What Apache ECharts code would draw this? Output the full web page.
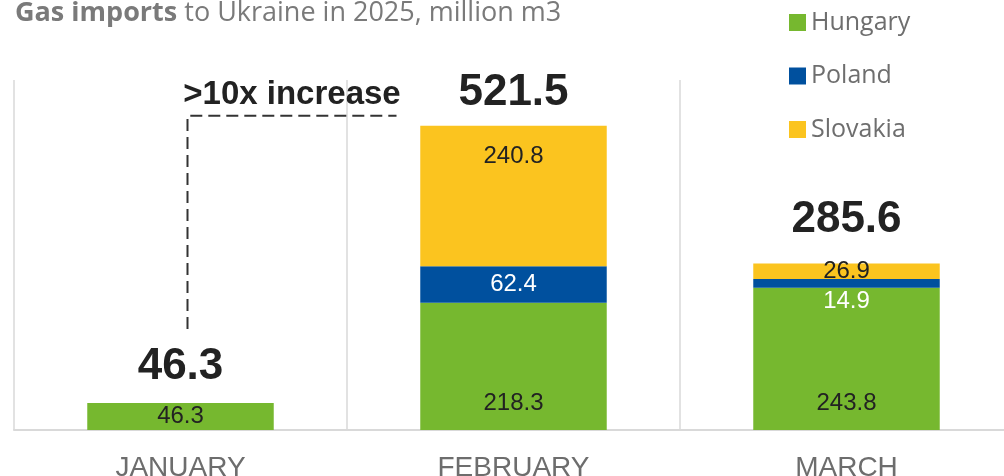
<!DOCTYPE html>
<html>
<head>
<meta charset="utf-8">
<script src="https://cdn.jsdelivr.net/npm/echarts@6/dist/echarts.min.js"></script>
<style>
  html, body { margin: 0; padding: 0; background: #fff; }
  #chart { width: 1004px; height: 476px; }
</style>
</head>
<body>
<div id="chart"></div>
<script>
// Monthly gas imports to Ukraine, million m3
const months = ['JANUARY', 'FEBRUARY', 'MARCH'];
const hungary = [46.3, 218.3, 243.8];
const poland = [0, 62.4, 14.9];
const slovakia = [0, 240.8, 26.9];
const countryNames = ['Hungary', 'Poland', 'Slovakia'];

const totals = months.map((_, i) => +(hungary[i] + poland[i] + slovakia[i]).toFixed(1));

const COLORS = { Hungary: '#76B82F', Poland: '#00509E', Slovakia: '#FBC41F' };
const NUM_FONT = 'Liberation Sans, Arial, sans-serif';
const TEXT_FONT = 'Open Sans, Liberation Sans, sans-serif';

const chart = echarts.init(document.getElementById('chart'), null, { renderer: 'canvas' });

// distance of the bold total above each column
const totalLift = [14, 10, 21];

function segLabel(color) {
  return { show: true, color: color, fontSize: 24, fontFamily: NUM_FONT, formatter: p => p.value ? p.value.toFixed(1) : '' };
}

const option = {
  animation: false,
  title: {
    text: '{b|Gas imports} to Ukraine in 2025, million m3',
    left: 10,
    top: -5,
    textStyle: {
      fontFamily: TEXT_FONT, fontSize: 27, color: '#7a7a7a', fontWeight: 'normal',
      rich: { b: { fontFamily: TEXT_FONT, fontSize: 27, color: '#7a7a7a', fontWeight: 'bold' } }
    }
  },
  legend: {
    data: countryNames,
    orient: 'vertical',
    left: 784,
    top: 5,
    itemWidth: 17,
    itemHeight: 17,
    itemGap: 28.5,
    icon: 'rect',
    textStyle: { fontFamily: TEXT_FONT, fontSize: 25, lineHeight: 25, color: '#6e6e6e' }
  },
  grid: { left: 14, width: 999, top: 80, bottom: 46, containLabel: false, outerBoundsMode: 'none' },
  xAxis: {
    type: 'category',
    data: months,
    axisLine: { show: true, lineStyle: { color: '#d9d9d9', width: 2 } },
    axisTick: { show: false },
    splitLine: { show: true, lineStyle: { color: '#d9d9d9', width: 1.5 } },
    axisLabel: { margin: 24, fontFamily: NUM_FONT, fontSize: 28, color: '#6d6d6d', lineHeight: 28 }
  },
  yAxis: {
    type: 'value',
    min: 0,
    max: 600,
    show: false,
    splitLine: { show: false }
  },
  series: [
    {
      name: 'Hungary', type: 'bar', stack: 'total', barWidth: '56%',
      itemStyle: { color: COLORS.Hungary },
      label: Object.assign(segLabel('#222'), { position: 'insideBottom', distance: 15 }),
      data: hungary.map((v, i) => i === 0 ? { value: v, label: { position: 'inside' } } : v)
    },
    {
      name: 'Poland', type: 'bar', stack: 'total',
      itemStyle: { color: COLORS.Poland },
      label: Object.assign(segLabel('#ffffff'), { position: 'inside' }),
      data: poland.map((v, i) => i === 2 ? { value: v, label: { offset: [0, 18] } } : v)
    },
    {
      name: 'Slovakia', type: 'bar', stack: 'total',
      itemStyle: { color: COLORS.Slovakia },
      label: Object.assign(segLabel('#222'), { position: 'inside' }),
      data: slovakia.map((v, i) => i === 1 ? { value: v, label: { position: 'insideTop', distance: 19 } } : v)
    },
    {
      name: 'Total', type: 'scatter',
      symbol: 'circle', symbolSize: 1,
      itemStyle: { color: 'transparent', opacity: 1 },
      silent: true,
      label: {
        show: true, position: 'top', color: '#222',
        fontFamily: NUM_FONT, fontSize: 44, fontWeight: 'bold',
        formatter: p => p.value.toFixed(1)
      },
      data: totals.map((v, i) => ({ value: v, label: { distance: totalLift[i] } }))
    }
  ]
};

chart.setOption(option);

// dashed bracket from the January total up to the February level
const janPt = chart.convertToPixel({ gridIndex: 0 }, [0, totals[0]]);
const febPt = chart.convertToPixel({ gridIndex: 0 }, [1, totals[1]]);
const x0 = janPt[0] + 7;
const yLow = janPt[1] - 74;
const yHigh = febPt[1] - 10;
const xEnd = febPt[0] - 117;

chart.setOption({
  graphic: [
    {
      type: 'polyline',
      shape: { points: [[x0, yLow], [x0, yHigh], [xEnd, yHigh]] },
      style: { stroke: '#333', lineWidth: 2, lineDash: [12, 6], fill: null },
      silent: true
    },
    {
      type: 'text',
      x: (x0 + xEnd) / 2,
      y: yHigh - 21,
      style: {
        text: '>10x increase',
        font: 'bold 33px Liberation Sans, Arial, sans-serif',
        fill: '#222',
        align: 'center',
        verticalAlign: 'middle'
      },
      silent: true
    }
  ]
});
</script>
</body>
</html>
